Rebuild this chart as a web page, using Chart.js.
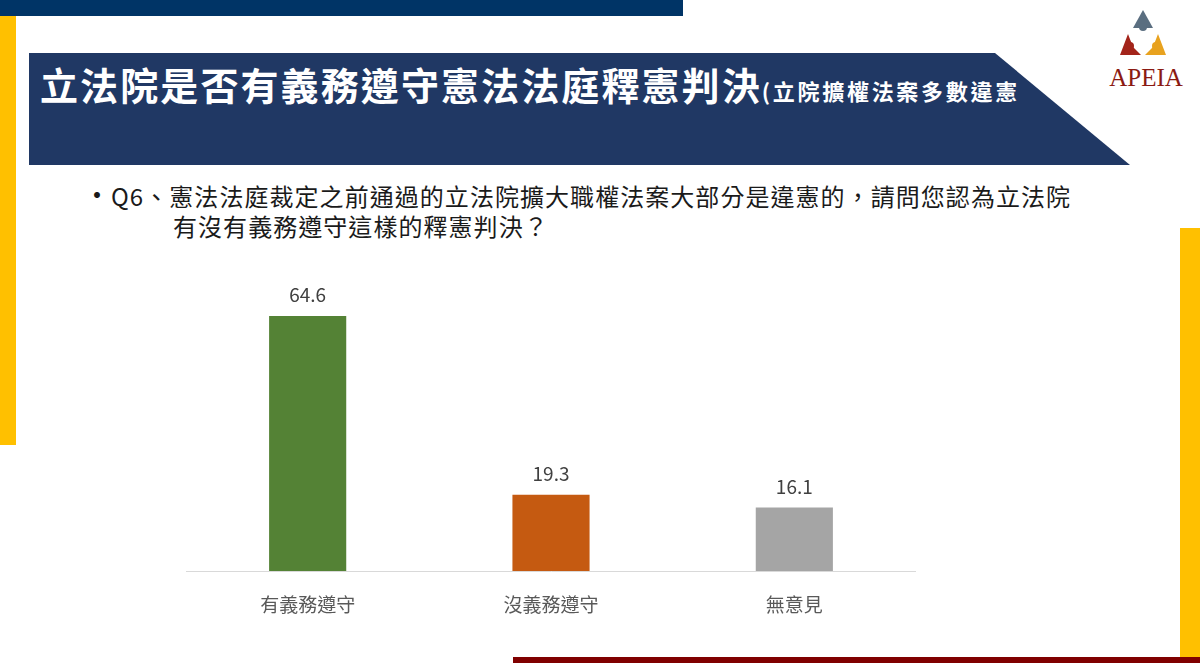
<!DOCTYPE html>
<html>
<head>
<meta charset="utf-8">
<script src="https://cdn.jsdelivr.net/npm/chart.js@4/dist/chart.umd.min.js"></script>
<style>
  html, body { margin:0; padding:0; background:#fff; }
  #page { position:relative; width:1200px; height:663px; overflow:hidden; background:#fff; font-family:"Noto Sans CJK TC", sans-serif; }
  .abs { position:absolute; }
  #title { left:40px; top:60px; color:#fff; font-weight:700; font-size:38px; letter-spacing:2.1px; white-space:nowrap; line-height:48px; }
  #title small { font-size:22px; letter-spacing:2.7px; }
  #bullet { left:83px; top:179px; font-size:28px; color:#1a1a1a; line-height:30px; }
  #q1 { left:111px; top:181px; font-size:24px; color:#1a1a1a; white-space:nowrap; line-height:30px; letter-spacing:1.05px; }
  #q2 { left:173px; top:211px; font-size:24px; color:#1a1a1a; white-space:nowrap; line-height:30px; letter-spacing:1.05px; }
  #chartWrap { left:186px; top:260px; width:730px; height:371px; }
</style>
</head>
<body>
<div id="page">
  <svg class="abs" style="left:0;top:0" width="1200" height="663">
    <rect x="0" y="0" width="683" height="16" fill="#003466"/>
    <rect x="0" y="16" width="16" height="429" fill="#FFC000"/>
    <polygon points="29,53 995,53 1130,165 29,165" fill="#203864"/>
    <rect x="1180" y="228" width="20" height="432" fill="#FFC000"/>
    <rect x="513" y="657" width="687" height="6" fill="#800000"/>
    <!-- logo -->
    <polygon points="1143,10 1133,28 1153,28" fill="#5a6e80"/>
    <circle cx="1143" cy="27" r="4" fill="#5a6e80"/>
    <polygon points="1128,34 1120,55 1141,55 1133,47" fill="#a3241a"/>
    <circle cx="1130" cy="46" r="4" fill="#a3241a"/>
    <polygon points="1158,34 1166,55 1145,55 1153,47" fill="#e8a21f"/>
    <circle cx="1156" cy="46" r="4" fill="#e8a21f"/>
    <text x="1146" y="86" text-anchor="middle" font-family="Liberation Serif, serif" font-size="25" fill="#8b1a12">APEIA</text>
  </svg>
  <div id="title" class="abs">立法院是否有義務遵守憲法法庭釋憲判決<small>(立院擴權法案多數違憲</small></div>
  <div id="bullet" class="abs">•</div>
  <div id="q1" class="abs">Q6、憲法法庭裁定之前通過的立法院擴大職權法案大部分是違憲的，請問您認為立法院</div>
  <div id="q2" class="abs">有沒有義務遵守這樣的釋憲判決？</div>
  <div id="chartWrap" class="abs"><canvas id="c" width="730" height="371"></canvas></div>
</div>
<script>
const categories = ['有義務遵守', '沒義務遵守', '無意見'];
const values = [64.6, 19.3, 16.1];
const barColors = ['#548235', '#C55A11', '#A5A5A5'];

const valueLabels = {
  id: 'valueLabels',
  afterDatasetsDraw(chart) {
    const ctx = chart.ctx;
    const meta = chart.getDatasetMeta(0);
    ctx.save();
    ctx.font = '19px "Noto Sans CJK TC", sans-serif';
    ctx.fillStyle = '#404040';
    ctx.textAlign = 'center';
    ctx.textBaseline = 'middle';
    meta.data.forEach((el, i) => {
      ctx.fillText(values[i].toFixed(1), el.x, el.y - 21);
    });
    ctx.restore();
  }
};

new Chart(document.getElementById('c'), {
  type: 'bar',
  data: {
    labels: categories,
    datasets: [{ data: values, backgroundColor: barColors, borderWidth: 0, categoryPercentage: 1, barPercentage: 0.317 }]
  },
  options: {
    responsive: false,
    devicePixelRatio: 1,
    animation: false,
    layout: { padding: { top: 34.7, left: 0, right: 0, bottom: 0 } },
    plugins: { legend: { display: false }, tooltip: { enabled: false } },
    scales: {
      x: {
        grid: { display: false },
        border: { display: true, color: '#D9D9D9', width: 1 },
        ticks: { color: '#595959', font: { size: 19, family: '"Noto Sans CJK TC", sans-serif' }, padding: 14 },
        afterFit(axis) { axis.height = 60; }
      },
      y: { display: false, min: 0, max: 70 }
    }
  },
  plugins: [valueLabels]
});
</script>
</body>
</html>
